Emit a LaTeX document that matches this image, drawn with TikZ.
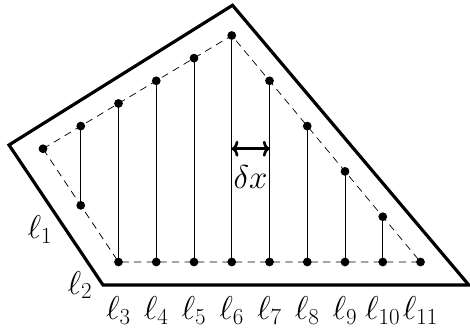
\documentclass[tikz,border=0pt]{standalone}
\usetikzlibrary{arrows.meta}
\begin{document}
\begin{tikzpicture}[x=1cm,y=1cm,
  dot/.style={circle,fill=black,inner sep=0pt,minimum size=6.6pt},
  lab/.style={inner sep=0pt,font=\fontsize{24}{28}\selectfont},
  outer/.style={line width=2.4pt,line join=miter},
  dsh/.style={dash pattern=on 5.5pt off 4pt,line width=0.55pt},
  vert/.style={line width=0.65pt}]
\useasboundingbox (-3.139,-1.775) rectangle (9.311,6.94);
% outer polygon
\coordinate (A) at (-2.90,3.10);
\coordinate (B) at (3.02,6.80);
\coordinate (C) at (9.28,-0.61);
\coordinate (D) at (-0.41,-0.61);
\draw[outer] (A) -- (B) -- (C) -- (D) -- cycle;
% points
\node[dot] (p1) at (-2,3) {};
\node[dot] (t2) at (-1,3.6) {};
\node[dot] (b2) at (-1,1.5) {};
\node[dot] (t3) at (0,4.2) {};
\node[dot] (b3) at (0,0) {};
\node[dot] (t4) at (1,4.8) {};
\node[dot] (b4) at (1,0) {};
\node[dot] (t5) at (2,5.4) {};
\node[dot] (b5) at (2,0) {};
\node[dot] (t6) at (3,6.0) {};
\node[dot] (b6) at (3,0) {};
\node[dot] (t7) at (4,4.8) {};
\node[dot] (b7) at (4,0) {};
\node[dot] (t8) at (5,3.6) {};
\node[dot] (b8) at (5,0) {};
\node[dot] (t9) at (6,2.4) {};
\node[dot] (b9) at (6,0) {};
\node[dot] (t10) at (7,1.2) {};
\node[dot] (b10) at (7,0) {};
\node[dot] (p11) at (8,0) {};
% dashed polygon
\draw[dsh] (p1.center) -- (t6.center) -- (p11.center) -- (b3.center) -- cycle;
% vertical segments
\foreach \i in {2,...,10} {\draw[vert] (t\i.center) -- (b\i.center);}
% delta x arrow
\coordinate (ax1) at (3,3.0);
\coordinate (ax2) at (4,3.0);
\draw[line width=2pt,{To[length=5pt,width=12pt]}-{To[length=5pt,width=12pt]}] (ax1) -- (ax2);
\node[lab] (dx) at (3.5,2.25) {$\delta x$};
% labels
\node[lab] (l1) at (-2.08,0.85) {$\ell_1$};
\node[lab] (l2) at (-1.02,-0.61) {$\ell_2$};
\foreach \i in {3,...,11} {\node[lab] (l\i) at (\i-3,-1.28) {$\ell_{\i}$};}
\end{tikzpicture}
\end{document}
